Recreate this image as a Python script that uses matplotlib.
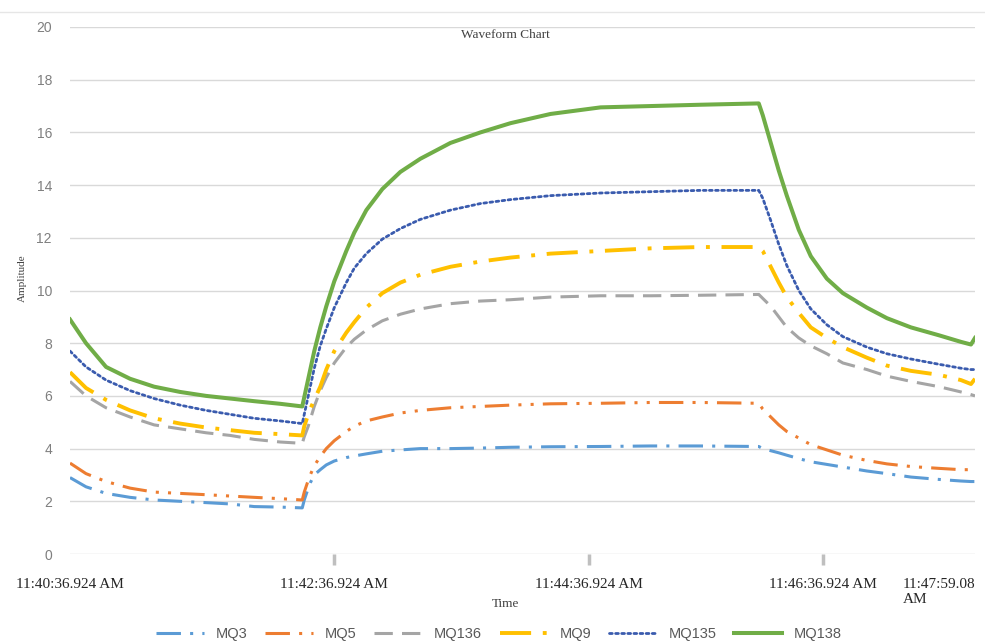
import matplotlib
matplotlib.use("Agg")
import matplotlib.pyplot as plt
from matplotlib.lines import Line2D

# sample number along the recording
sample = [0, 8, 18, 30, 42, 55, 68, 80, 92, 105, 116,
          117, 119, 120, 122, 125, 128, 132, 138, 142, 148, 156, 165, 175,
          190, 205, 220, 240, 265, 290, 315, 344,
          346, 350, 354, 358, 364, 370, 378, 386, 398, 408, 420, 434, 445, 450, 452]

mq3 = [2.9, 2.55, 2.3, 2.15, 2.05, 2.0, 1.95, 1.9, 1.8, 1.78, 1.75,
       2.05, 2.5, 2.7, 3.0, 3.2, 3.38, 3.53, 3.66, 3.72, 3.8, 3.9, 3.95, 4.0,
       4.0, 4.02, 4.05, 4.07, 4.08, 4.1, 4.1, 4.08,
       4.0, 3.92, 3.84, 3.75, 3.62, 3.5, 3.4, 3.3, 3.15, 3.05, 2.92, 2.83, 2.77, 2.75, 2.75]

mq5 = [3.45, 3.05, 2.75, 2.5, 2.35, 2.3, 2.25, 2.2, 2.15, 2.1, 2.05,
       2.35, 2.8, 3.0, 3.35, 3.7, 4.0, 4.3, 4.65, 4.85, 5.05, 5.2, 5.35, 5.45,
       5.55, 5.6, 5.65, 5.7, 5.72, 5.75, 5.75, 5.72,
       5.5, 5.2, 4.9, 4.65, 4.4, 4.15, 3.95, 3.75, 3.55, 3.42, 3.32, 3.25, 3.2, 3.2, 3.2]

mq136 = [6.55, 6.0, 5.55, 5.2, 4.9, 4.75, 4.6, 4.5, 4.35, 4.25, 4.2,
         4.45, 4.85, 5.1, 5.6, 6.2, 6.7, 7.25, 7.85, 8.15, 8.5, 8.85, 9.1, 9.3,
         9.5, 9.6, 9.65, 9.75, 9.8, 9.8, 9.82, 9.85,
         9.7, 9.4, 9.0, 8.6, 8.2, 7.9, 7.6, 7.25, 7.0, 6.75, 6.55, 6.35, 6.15, 6.05, 6.0]

mq9 = [6.9, 6.3, 5.85, 5.45, 5.15, 4.95, 4.8, 4.7, 4.6, 4.55, 4.5,
       4.85, 5.3, 5.5, 5.85, 6.35, 7.0, 7.7, 8.4, 8.8, 9.35, 9.9, 10.3, 10.6,
       10.9, 11.1, 11.25, 11.4, 11.5, 11.6, 11.65, 11.65,
       11.5, 10.9, 10.3, 9.75, 9.15, 8.6, 8.2, 7.85, 7.45, 7.15, 6.95, 6.8, 6.6, 6.45, 6.65]

mq135 = [7.7, 7.1, 6.6, 6.2, 5.9, 5.65, 5.45, 5.3, 5.15, 5.05, 4.95,
         5.3, 6.0, 6.35, 7.05, 7.9, 8.55, 9.35, 10.3, 10.85, 11.4, 11.95, 12.35, 12.7,
         13.05, 13.3, 13.45, 13.6, 13.7, 13.75, 13.8, 13.8,
         13.5, 12.65, 11.75, 10.95, 10.0, 9.3, 8.7, 8.25, 7.85, 7.6, 7.4, 7.2, 7.05, 7.0, 7.0]

mq138 = [8.9, 8.0, 7.1, 6.65, 6.35, 6.15, 6.0, 5.9, 5.8, 5.7, 5.6,
         5.95, 6.65, 7.0, 7.7, 8.6, 9.4, 10.35, 11.5, 12.2, 13.05, 13.85, 14.5, 15.0,
         15.6, 16.0, 16.35, 16.7, 16.95, 17.0, 17.05, 17.1,
         16.65, 15.6, 14.55, 13.6, 12.3, 11.3, 10.45, 9.9, 9.35, 8.95, 8.6, 8.3, 8.05, 7.95, 8.2]

tick_samples = [0, 132, 259, 376, 452]
tick_labels = ["11:40:36.924 AM", "11:42:36.924 AM", "11:44:36.924 AM",
               "11:46:36.924 AM", "11:47:59.08\nAM"]

fig = plt.figure(figsize=(9.85, 6.42), dpi=100)
ax = fig.add_axes([70 / 985, 1 - 554 / 642, 905 / 985, 527 / 642])

ax.plot(sample, mq3, color="#5B9BD5", lw=2.2, dashes=(8, 3, 1, 3), label="MQ3")
ax.plot(sample, mq5, color="#ED7D31", lw=2.2, dashes=(8, 3, 1, 3, 1, 3), label="MQ5")
ax.plot(sample, mq136, color="#A5A5A5", lw=2.2, dashes=(6, 3), label="MQ136")
ax.plot(sample, mq9, color="#FFC000", lw=2.8, dashes=(8, 3, 1, 3), label="MQ9")
ax.plot(sample, mq135, color="#3A5BAE", lw=2.0, dashes=(1, 1.2),
        dash_capstyle="round", label="MQ135")
ax.plot(sample, mq138, color="#70AD47", lw=2.9, label="MQ138")

ax.set_xlim(0, 452)
ax.set_ylim(0, 20)
ax.set_yticks(range(0, 21, 2))
ax.grid(axis="y", color="#D9D9D9", lw=1)
ax.set_axisbelow(True)
for s in ax.spines.values():
    s.set_visible(False)

ax.tick_params(axis="y", length=0, pad=13, labelsize=10, labelcolor="#7F7F7F")
for lab in ax.get_yticklabels():
    lab.set_family("Liberation Sans")

# labels on the major ticks, short grey marks on the minor ones
ax.xaxis.remove_overlapping_locs = False
ax.set_xticks(tick_samples)
ax.set_xticklabels(tick_labels, family="Liberation Serif", fontsize=11, color="#262626")
ax.tick_params(axis="x", which="major", length=0, pad=17)
ax.set_xticks([132, 259, 376], minor=True)
ax.tick_params(axis="x", which="minor", length=8, width=2.5, color="#BFBFBF")
xl = ax.get_xticklabels()
xl[-1].set_horizontalalignment("right")
xl[-1].set_multialignment("left")

fig.text(505 / 985, 1 - 35 / 642, "Waveform Chart", ha="center", va="center",
         family="Liberation Serif", fontsize=9.5, color="#404040")
fig.text(505 / 985, 1 - 604 / 642, "Time", ha="center", va="center",
         family="Liberation Serif", fontsize=9.5, color="#404040")
fig.text(22 / 985, 1 - 278 / 642, "Amplitude", ha="center", va="center",
         rotation=90, family="Liberation Serif", fontsize=8, color="#404040")

# faint frame line above the plot
fig.add_artist(Line2D([0, 1], [1 - 12 / 642, 1 - 12 / 642], color="#E6E6E6", lw=1))

leg = fig.legend(loc="center", bbox_to_anchor=(499 / 985, 1 - 634 / 642), ncol=6,
                 frameon=False, handlelength=3.3, handletextpad=0.8, columnspacing=1.2,
                 prop={"family": "Liberation Sans", "size": 10.5})
for t in leg.get_texts():
    t.set_color("#595959")

fig.savefig("out.png", dpi=100)
